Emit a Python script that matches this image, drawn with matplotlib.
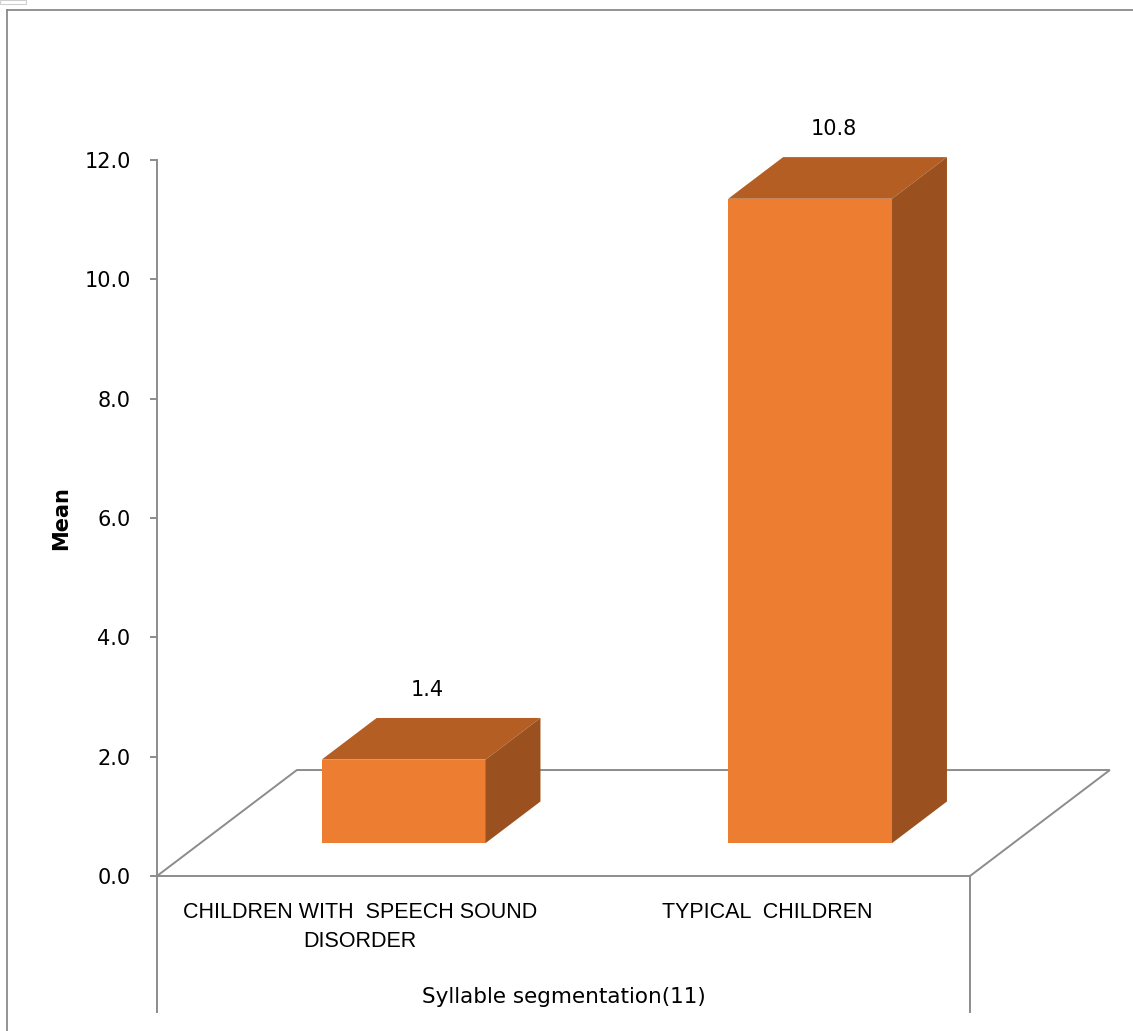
import matplotlib.pyplot as plt
from matplotlib.patches import Polygon, Rectangle
from matplotlib.lines import Line2D

# data
groups = ["CHILDREN WITH  SPEECH SOUND\nDISORDER", "TYPICAL  CHILDREN"]
means = [1.4, 10.8]
group_title = "Syllable segmentation(11)"
yticks = [0, 2, 4, 6, 8, 10, 12]

front_col = '#ED7D31'
top_col = '#B55E23'
side_col = '#9B511F'
line_col = '#8C8C8C'

# oblique 3d offsets (data units for full floor depth)
ddx, ddy = 0.344, 1.776
d0, d1 = 0.31, 0.703
bar_w = 0.403

fig = plt.figure(figsize=(11.33, 10.31), dpi=100)
ax = fig.add_axes([157/1133, 155/1031, 813/1133, 716/1031])
ax.set_xlim(0, len(means))
ax.set_ylim(0, 12)

for s in ['top', 'right', 'bottom']:
    ax.spines[s].set_visible(False)
ax.spines['left'].set_color(line_col)
ax.spines['left'].set_linewidth(1.4)
ax.spines['left'].set_bounds(0, 12)
ax.set_xticks([])
ax.set_yticks(yticks)
ax.set_yticklabels(['%.1f' % t for t in yticks], fontsize=15)
ax.tick_params(axis='y', direction='out', length=5, width=1.4, color=line_col, pad=14)

ax.set_ylabel('Mean', fontsize=15, fontweight='bold')
ax.yaxis.set_label_coords(-0.106, 0.5)

# floor
n = len(means)
ax.plot([0, ddx, n + ddx, n, 0], [0, ddy, ddy, 0, 0], color=line_col, lw=1.4,
        clip_on=False, zorder=1, solid_joinstyle='miter')

# bars
for i, v in enumerate(means):
    x0 = i + 0.5 - bar_w / 2 + d0 * ddx
    x1 = x0 + bar_w
    y0 = d0 * ddy
    y1 = y0 + v
    sx = (d1 - d0) * ddx
    sy = (d1 - d0) * ddy
    ax.add_patch(Polygon([(x0, y0), (x1, y0), (x1, y1), (x0, y1)],
                         closed=True, fc=front_col, ec='none', clip_on=False, zorder=3))
    ax.add_patch(Polygon([(x0, y1), (x1, y1), (x1 + sx, y1 + sy), (x0 + sx, y1 + sy)],
                         closed=True, fc=top_col, ec='none', clip_on=False, zorder=3))
    ax.add_patch(Polygon([(x1, y0), (x1 + sx, y0 + sy), (x1 + sx, y1 + sy), (x1, y1)],
                         closed=True, fc=side_col, ec='none', clip_on=False, zorder=3))
    ax.text((x0 + x1) / 2 + sx / 2 - 0.01, y1 + sy + 0.47, '%.1f' % v,
            ha='center', va='center', fontsize=15, clip_on=False)

# category labels and group title
xt = ax.get_xaxis_transform()
for i, g in enumerate(groups):
    ax.text(i + 0.5, -0.037, g, transform=xt, ha='center', va='top',
            fontsize=15.5, family='Liberation Sans', linespacing=1.5)
ax.text(n / 2, -0.169, group_title, transform=xt, ha='center', va='center',
        fontsize=15.5)
for xb in [0, n]:
    ax.plot([xb, xb], [0, -0.19], transform=xt, color=line_col, lw=1.4, clip_on=False)

# outer frame
W, H = 1133, 1031
fig.add_artist(Line2D([6.5/W, 6.5/W], [0, 1 - 10/H], color='#8A8A8A', lw=1.3))
fig.add_artist(Line2D([6.5/W, 1], [1 - 10/H, 1 - 10/H], color='#8A8A8A', lw=1.3))
fig.add_artist(Rectangle((0, 1 - 3.5/H), 26/W, 3.5/H, fc='white', ec='#CFCFCF', lw=0.8))

plt.savefig('out.png', dpi=100)
